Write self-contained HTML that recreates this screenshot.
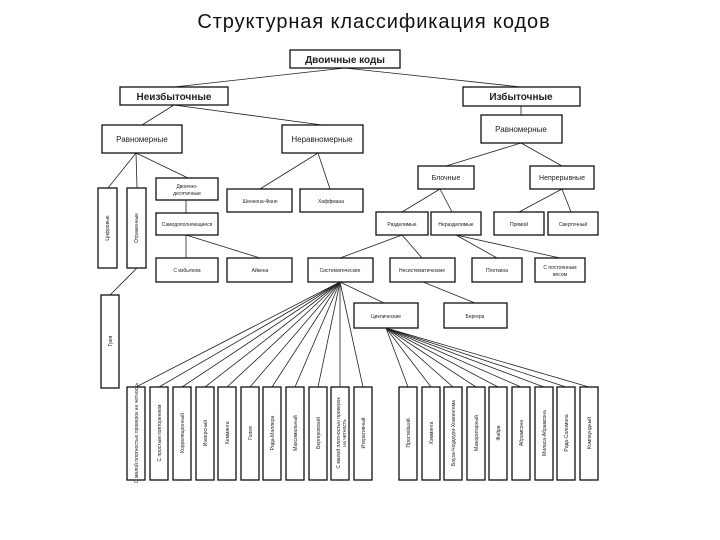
<!DOCTYPE html>
<html><head><meta charset="utf-8"><style>
html,body{margin:0;padding:0;background:#fff;}
svg{display:block;}
</style></head><body>
<svg width="720" height="540" viewBox="0 0 720 540" xmlns="http://www.w3.org/2000/svg" font-family="Liberation Sans, sans-serif">
<text x="374" y="28" font-size="20" letter-spacing="0.9" text-anchor="middle" fill="#111">Структурная  классификация кодов</text>
<g stroke="#222" stroke-width="0.8" fill="none">
<line x1="345" y1="68" x2="174" y2="87"/><line x1="345" y1="68" x2="521" y2="87"/>
<line x1="174" y1="105" x2="142" y2="125"/><line x1="174" y1="105" x2="322" y2="125"/>
<line x1="521" y1="106" x2="521" y2="115"/>
<line x1="521" y1="143" x2="446" y2="166"/><line x1="521" y1="143" x2="562" y2="166"/>
<line x1="136" y1="153" x2="108" y2="188"/><line x1="136" y1="153" x2="137" y2="188"/><line x1="136" y1="153" x2="188" y2="178"/>
<line x1="137" y1="268" x2="110" y2="295"/>
<line x1="186" y1="200" x2="186" y2="213"/>
<line x1="186" y1="235" x2="186" y2="258"/><line x1="186" y1="235" x2="260" y2="258"/>
<line x1="318" y1="153" x2="260" y2="189"/><line x1="318" y1="153" x2="330" y2="189"/>
<line x1="440" y1="189" x2="402" y2="212"/><line x1="440" y1="189" x2="452" y2="212"/>
<line x1="562" y1="189" x2="519" y2="212"/><line x1="562" y1="189" x2="571" y2="212"/>
<line x1="402" y1="235" x2="340" y2="258"/><line x1="402" y1="235" x2="422" y2="258"/>
<line x1="456" y1="235" x2="497" y2="258"/><line x1="456" y1="235" x2="560" y2="258"/>
<line x1="340" y1="282" x2="384" y2="303"/><line x1="423" y1="282" x2="475" y2="303"/>
<line x1="340" y1="282" x2="136" y2="387"/><line x1="340" y1="282" x2="159" y2="387"/><line x1="340" y1="282" x2="182" y2="387"/><line x1="340" y1="282" x2="205" y2="387"/><line x1="340" y1="282" x2="227" y2="387"/><line x1="340" y1="282" x2="250" y2="387"/><line x1="340" y1="282" x2="272" y2="387"/><line x1="340" y1="282" x2="295" y2="387"/><line x1="340" y1="282" x2="318" y2="387"/><line x1="340" y1="282" x2="340" y2="387"/><line x1="340" y1="282" x2="363" y2="387"/>
<line x1="386" y1="328" x2="408" y2="387"/><line x1="386" y1="328" x2="431" y2="387"/><line x1="386" y1="328" x2="453" y2="387"/><line x1="386" y1="328" x2="476" y2="387"/><line x1="386" y1="328" x2="498" y2="387"/><line x1="386" y1="328" x2="521" y2="387"/><line x1="386" y1="328" x2="544" y2="387"/><line x1="386" y1="328" x2="566" y2="387"/><line x1="386" y1="328" x2="589" y2="387"/>
</g>
<g stroke="#111" stroke-width="1.3" fill="#fff">
<rect x="290" y="50" width="110" height="18"/>
<rect x="120" y="87" width="108" height="18"/>
<rect x="463" y="87" width="117" height="19"/>
<rect x="481" y="115" width="81" height="28"/>
<rect x="102" y="125" width="80" height="28"/>
<rect x="282" y="125" width="81" height="28"/>
<rect x="418" y="166" width="56" height="23"/>
<rect x="530" y="166" width="64" height="23"/>
<rect x="98" y="188" width="19" height="80"/>
<rect x="127" y="188" width="19" height="80"/>
<rect x="156" y="178" width="62" height="22"/>
<rect x="156" y="213" width="62" height="22"/>
<rect x="227" y="189" width="65" height="23"/>
<rect x="300" y="189" width="63" height="23"/>
<rect x="376" y="212" width="52" height="23"/>
<rect x="431" y="212" width="50" height="23"/>
<rect x="494" y="212" width="50" height="23"/>
<rect x="548" y="212" width="50" height="23"/>
<rect x="156" y="258" width="62" height="24"/>
<rect x="227" y="258" width="65" height="24"/>
<rect x="308" y="258" width="65" height="24"/>
<rect x="390" y="258" width="65" height="24"/>
<rect x="472" y="258" width="50" height="24"/>
<rect x="535" y="258" width="50" height="24"/>
<rect x="101" y="295" width="18" height="93"/>
<rect x="354" y="303" width="64" height="25"/>
<rect x="444" y="303" width="63" height="25"/>
<rect x="127" y="387" width="18" height="93"/><rect x="150" y="387" width="18" height="93"/><rect x="173" y="387" width="18" height="93"/><rect x="196" y="387" width="18" height="93"/><rect x="218" y="387" width="18" height="93"/><rect x="241" y="387" width="18" height="93"/><rect x="263" y="387" width="18" height="93"/><rect x="286" y="387" width="18" height="93"/><rect x="309" y="387" width="18" height="93"/><rect x="331" y="387" width="18" height="93"/><rect x="354" y="387" width="18" height="93"/>
<rect x="399" y="387" width="18" height="93"/><rect x="422" y="387" width="18" height="93"/><rect x="444" y="387" width="18" height="93"/><rect x="467" y="387" width="18" height="93"/><rect x="489" y="387" width="18" height="93"/><rect x="512" y="387" width="18" height="93"/><rect x="535" y="387" width="18" height="93"/><rect x="557" y="387" width="18" height="93"/><rect x="580" y="387" width="18" height="93"/>
</g>
<g fill="#222" text-anchor="middle">
<text x="345" y="63" font-size="10" font-weight="bold">Двоичные коды</text>
<text x="174" y="100" font-size="10" font-weight="bold">Неизбыточные</text>
<text x="521" y="100" font-size="10" font-weight="bold">Избыточные</text>
<text x="521" y="132" font-size="8">Равномерные</text>
<text x="142" y="142" font-size="8">Равномерные</text>
<text x="322" y="142" font-size="8">Неравномерные</text>
<text x="446" y="180" font-size="7">Блочные</text>
<text x="562" y="180" font-size="7">Непрерывные</text>
<text x="187" y="188" font-size="5">Двоично-</text><text x="187" y="195" font-size="5">десятичные</text>
<text x="187" y="226" font-size="5">Самодополняющиеся</text>
<text x="260" y="203" font-size="5">Шеннона-Фано</text>
<text x="331" y="203" font-size="5">Хаффмана</text>
<text x="402" y="226" font-size="5">Разделимые</text>
<text x="456" y="226" font-size="5">Неразделимые</text>
<text x="519" y="226" font-size="5">Прямой</text>
<text x="573" y="226" font-size="5">Сверточный</text>
<text x="187" y="272" font-size="5">С избытком</text>
<text x="260" y="272" font-size="5">Айкена</text>
<text x="340" y="272" font-size="5">Систематические</text>
<text x="422" y="272" font-size="5">Несистематические</text>
<text x="497" y="272" font-size="5">Плоткина</text>
<text x="560" y="269" font-size="5">С постоянным</text><text x="560" y="276" font-size="5">весом</text>
<text x="386" y="318" font-size="5">Циклические</text>
<text x="475" y="318" font-size="5">Бергера</text>
<g font-size="5">
<text transform="translate(109,228) rotate(-90)">Цифровые</text>
<text transform="translate(138,228) rotate(-90)">Отраженные</text>
<text transform="translate(112,341) rotate(-90)">Грея</text>
<text transform="translate(138,433) rotate(-90)">С малой плотностью проверок на четность</text>
<text transform="translate(161,433) rotate(-90)">С простым повторением</text>
<text transform="translate(184,433) rotate(-90)">Корреляционный</text>
<text transform="translate(207,433) rotate(-90)">Инверсный</text>
<text transform="translate(229,433) rotate(-90)">Хемминга</text>
<text transform="translate(252,433) rotate(-90)">Голея</text>
<text transform="translate(274,433) rotate(-90)">Рида-Маллера</text>
<text transform="translate(297,433) rotate(-90)">Максимальный</text>
<text transform="translate(320,433) rotate(-90)">Бергеровский</text>
<text transform="translate(340,433) rotate(-90)">С малой плотностью проверок</text>
<text transform="translate(346,433) rotate(-90)">на четность</text>
<text transform="translate(365,433) rotate(-90)">Итеративный</text>
<text transform="translate(410,433) rotate(-90)">Простейший</text>
<text transform="translate(433,433) rotate(-90)">Хэмминга</text>
<text transform="translate(455,433) rotate(-90)">Боуза-Чоудхури-Хоквингема</text>
<text transform="translate(478,433) rotate(-90)">Мажоритарный</text>
<text transform="translate(500,433) rotate(-90)">Файра</text>
<text transform="translate(523,433) rotate(-90)">Абрамсона</text>
<text transform="translate(546,433) rotate(-90)">Миласа-Абрамсона</text>
<text transform="translate(568,433) rotate(-90)">Рида-Соломона</text>
<text transform="translate(591,433) rotate(-90)">Компаундный</text>
</g>
</g>
</svg>
</body></html>
